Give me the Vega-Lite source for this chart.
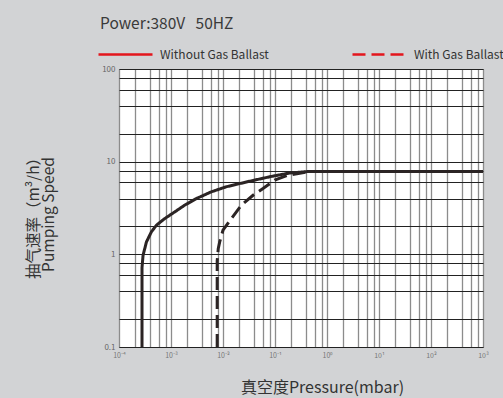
{
  "$schema": "https://vega.github.io/schema/vega-lite/v6.json",
  "autosize": {"type": "none"},
  "width": 364,
  "height": 278,
  "padding": {"left": 119, "top": 69, "right": 20, "bottom": 51},
  "background": "#d2d3d5",
  "title": {
    "text": "Power:380V\u00a0\u00a0\u00a050HZ",
    "anchor": "start",
    "frame": "group",
    "dx": -19,
    "offset": -18,
    "baseline": "alphabetic",
    "fontSize": 15.5,
    "fontWeight": "normal",
    "font": "Noto Sans CJK SC",
    "color": "#3a3a3a"
  },
  "config": {
    "font": "Noto Sans CJK SC",
    "view": {"fill": "white", "stroke": "#555", "strokeWidth": 1}
  },
  "data": {
    "values": [
      {"s": "Without Gas Ballast", "i": 0, "p": 0.000277, "v": 0.1},
      {"s": "Without Gas Ballast", "i": 1, "p": 0.000277, "v": 0.72},
      {"s": "Without Gas Ballast", "i": 2, "p": 0.00029, "v": 0.975},
      {"s": "Without Gas Ballast", "i": 3, "p": 0.000337, "v": 1.36},
      {"s": "Without Gas Ballast", "i": 4, "p": 0.00042, "v": 1.75},
      {"s": "Without Gas Ballast", "i": 5, "p": 0.000524, "v": 2.06},
      {"s": "Without Gas Ballast", "i": 6, "p": 0.000757, "v": 2.43},
      {"s": "Without Gas Ballast", "i": 7, "p": 0.00118, "v": 2.87},
      {"s": "Without Gas Ballast", "i": 8, "p": 0.00183, "v": 3.39},
      {"s": "Without Gas Ballast", "i": 9, "p": 0.00308, "v": 4.0},
      {"s": "Without Gas Ballast", "i": 10, "p": 0.00598, "v": 4.73},
      {"s": "Without Gas Ballast", "i": 11, "p": 0.0116, "v": 5.36},
      {"s": "Without Gas Ballast", "i": 12, "p": 0.0326, "v": 6.15},
      {"s": "Without Gas Ballast", "i": 13, "p": 0.079, "v": 6.87},
      {"s": "Without Gas Ballast", "i": 14, "p": 0.192, "v": 7.55},
      {"s": "Without Gas Ballast", "i": 15, "p": 0.465, "v": 7.85},
      {"s": "Without Gas Ballast", "i": 16, "p": 10, "v": 7.85},
      {"s": "Without Gas Ballast", "i": 17, "p": 1000, "v": 7.85},
      {"s": "With Gas Ballast", "i": 0, "p": 0.00773, "v": 0.1},
      {"s": "With Gas Ballast", "i": 1, "p": 0.00773, "v": 0.85},
      {"s": "With Gas Ballast", "i": 2, "p": 0.0081, "v": 1.15},
      {"s": "With Gas Ballast", "i": 3, "p": 0.00864, "v": 1.36},
      {"s": "With Gas Ballast", "i": 4, "p": 0.01, "v": 1.82},
      {"s": "With Gas Ballast", "i": 5, "p": 0.0145, "v": 2.43},
      {"s": "With Gas Ballast", "i": 6, "p": 0.0226, "v": 3.39},
      {"s": "With Gas Ballast", "i": 7, "p": 0.0378, "v": 4.34},
      {"s": "With Gas Ballast", "i": 8, "p": 0.0588, "v": 5.13},
      {"s": "With Gas Ballast", "i": 9, "p": 0.0986, "v": 6.31},
      {"s": "With Gas Ballast", "i": 10, "p": 0.178, "v": 7.14},
      {"s": "With Gas Ballast", "i": 11, "p": 0.465, "v": 7.85}
    ]
  },
  "mark": {"type": "line", "strokeWidth": 3, "color": "#2b2424", "strokeCap": "butt"},
  "encoding": {
    "x": {
      "field": "p",
      "type": "quantitative",
      "scale": {"type": "log", "domain": [0.0001, 1000], "nice": false},
      "axis": {
        "values": [0.0001, 0.0002, 0.0004, 0.0006, 0.0008, 0.001, 0.002, 0.004, 0.006, 0.008, 0.01, 0.02, 0.04, 0.06, 0.08, 0.1, 0.2, 0.4, 0.6, 0.8, 1, 2, 4, 6, 8, 10, 20, 40, 60, 80, 100, 200, 400, 600, 800, 1000],
        "grid": true,
        "gridColor": "#8c8c8c",
        "gridWidth": 1.3,
        "gridOpacity": 1,
        "domain": false,
        "ticks": false,
        "labelOverlap": false,
        "labelFlush": false,
        "labelFontSize": 7,
        "labelColor": "#777",
        "labelPadding": 4,
        "labelExpr": "datum.value == 0.0001 ? '10⁻⁴' : datum.value == 0.001 ? '10⁻³' : datum.value == 0.01 ? '10⁻²' : datum.value == 0.1 ? '10⁻¹' : datum.value == 1 ? '10⁰' : datum.value == 10 ? '10¹' : datum.value == 100 ? '10²' : datum.value == 1000 ? '10³' : ''",
        "title": "真空度Pressure(mbar)",
        "titleFontSize": 16,
        "titleFontWeight": "normal",
        "titleColor": "#333",
        "titleX": 203,
        "titleY": 40,
        "titleAlign": "center",
        "titleBaseline": "middle"
      }
    },
    "y": {
      "field": "v",
      "type": "quantitative",
      "scale": {"type": "log", "domain": [0.1, 100], "nice": false},
      "axis": {
        "values": [0.1, 0.2, 0.4, 0.6, 0.8, 1, 2, 4, 6, 8, 10, 20, 40, 60, 80, 100],
        "grid": true,
        "gridColor": "#222",
        "gridWidth": 1.2,
        "gridOpacity": 1,
        "domain": false,
        "ticks": false,
        "labelOverlap": false,
        "labelFlush": false,
        "labelFontSize": 8,
        "labelColor": "#666",
        "labelPadding": 4,
        "labelExpr": "datum.value == 0.1 ? '0.1' : datum.value == 1 ? '1' : datum.value == 10 ? '10' : datum.value == 100 ? '100' : ''",
        "title": ["抽气速率（m³/h）", "Pumping Speed"],
        "titleFontSize": 15.5,
        "titleLineHeight": 15,
        "titleFontWeight": "normal",
        "titleColor": "#333",
        "titleAngle": -90,
        "titleX": -78,
        "titleY": 145,
        "titleAlign": "center",
        "titleBaseline": "bottom"
      }
    },
    "strokeDash": {
      "field": "s",
      "type": "nominal",
      "scale": {"domain": ["Without Gas Ballast", "With Gas Ballast"], "range": [[1, 0], [13, 6]]},
      "legend": {
        "title": null,
        "orient": "none",
        "direction": "horizontal",
        "legendX": -22,
        "legendY": -43,
        "symbolType": "stroke",
        "symbolSize": 2916,
        "symbolStrokeWidth": 2.5,
        "symbolStrokeColor": "#e3161d",
        "labelFontSize": 12,
        "labelColor": "#333",
        "labelOffset": 6,
        "columnPadding": 78,
        "gridAlign": "none"
      }
    },
    "order": {"field": "i", "type": "quantitative"}
  }
}
